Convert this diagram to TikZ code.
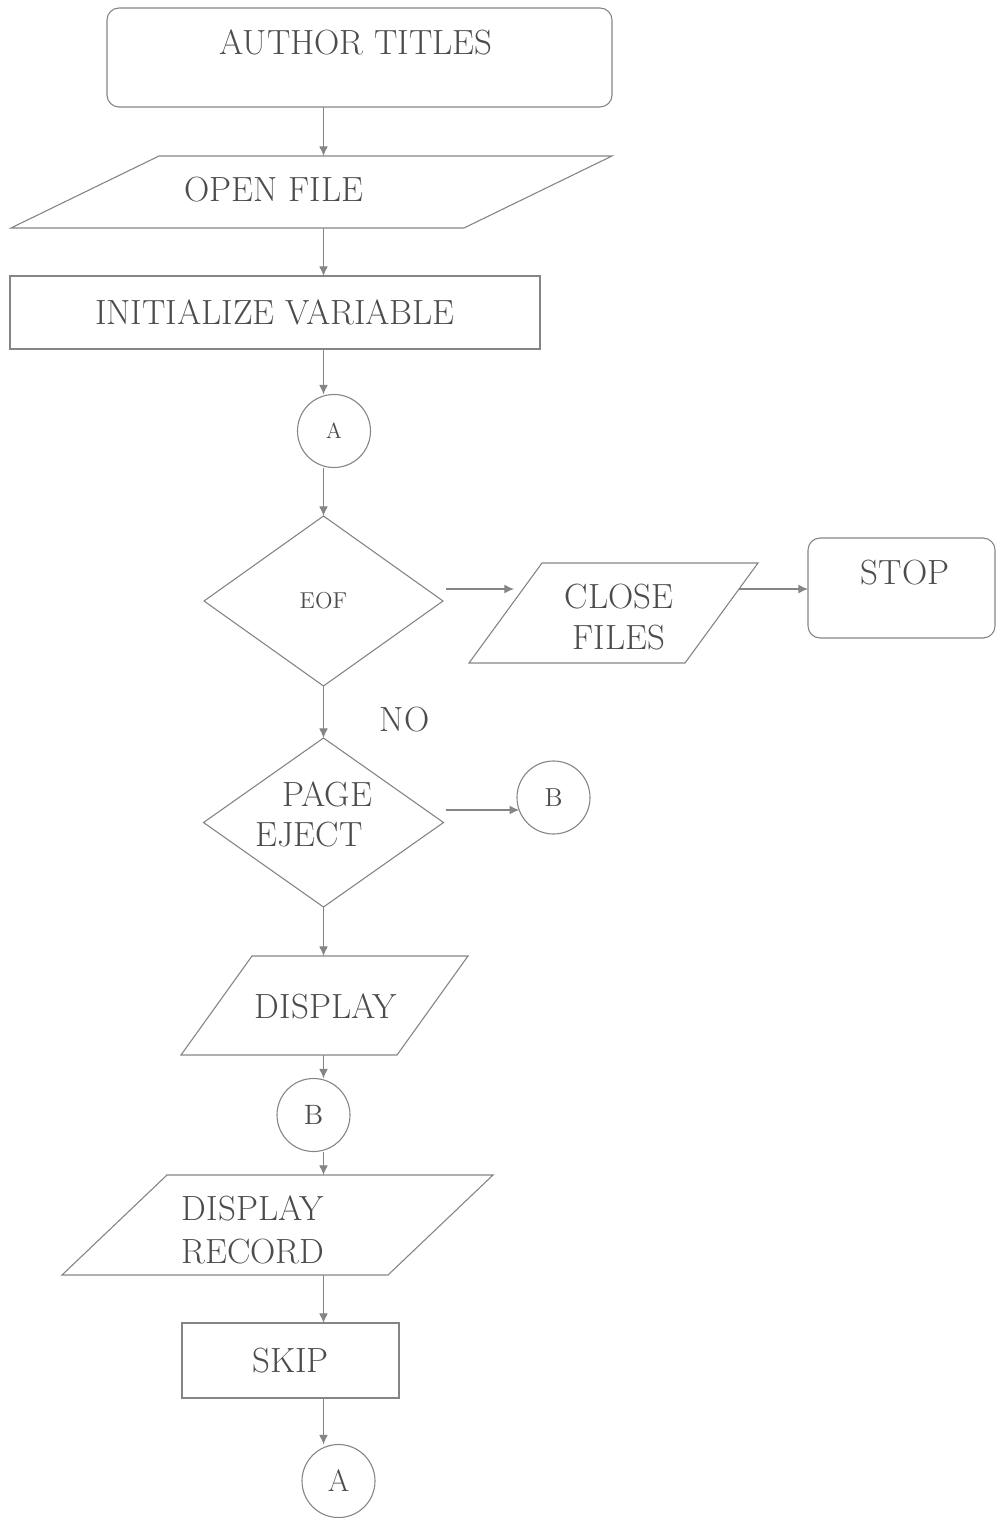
\documentclass[tikz,border=0pt]{standalone}
\usetikzlibrary{shapes.geometric,arrows.meta,calc}
\newcommand\paraoutline[2]{\draw[line] (#1.south west) -- ([shift={(#2,0)}]#1.north west) -- (#1.north east) -- ([shift={(-#2,0)}]#1.south east) -- cycle;}
\begin{document}
\begin{tikzpicture}[x=0.5pt,y=-0.5pt,
  line/.style={draw=black!48, line width=0.55pt},
  arr/.style={line, -{Latex[length=4.8pt,width=4.4pt]}},
  mainfont/.style={font=\fontsize{17.5}{20.5}\selectfont},
  txt/.style={mainfont, text=black!70, inner sep=0pt, align=center},
  box/.style={line, mainfont, text=black!70, rectangle, inner sep=0pt, outer sep=0pt},
  rbox/.style={box, rounded corners=6pt},
  pbox/.style={rectangle, draw=none, inner sep=0pt, outer sep=0pt},
  dia/.style={line, diamond, inner sep=0pt, outer sep=0pt, text=black!70, align=center},
  conn/.style={line, circle, inner sep=0pt, outer sep=0pt, minimum size=36.5pt, text=black!70}
]
\useasboundingbox (0,0) rectangle (996,1518);

% nodes
\node[rbox, minimum width=252.5pt, minimum height=49.5pt] (author) at (359.5,57.5) {};
\node[txt] (authort) at (356,42) {AUTHOR TITLES};

\node[pbox, minimum width=300.5pt, minimum height=36pt] (open) at (311.5,192) {};
\paraoutline{open}{148}
\node[txt] (opent) at (274,190) {OPEN FILE};

\node[box, minimum width=265pt, minimum height=36.5pt] (init) at (275,312.5) {INITIALIZE VARIABLE};

\node[conn, font=\fontsize{11}{13}\selectfont] (a1) at (334,431) {A};

\node[dia, minimum width=119.5pt, minimum height=85pt, font=\fontsize{11.5}{13}\selectfont] (eof) at (323.5,601) {EOF};

\node[pbox, minimum width=144.5pt, minimum height=50pt] (close) at (613.5,613) {};
\paraoutline{close}{73}
\node[txt] (closet) at (619,617.5) {CLOSE\\FILES};

\node[rbox, minimum width=93.5pt, minimum height=50pt] (stop) at (901.5,588) {};
\node[txt] (stopt) at (905,573) {STOP};

\node[txt] (no) at (404.5,720) {NO};

\node[dia, minimum width=120pt, minimum height=84.5pt] (page) at (323.5,822.5) {};
\node[txt] (paget1) at (327,794) {PAGE};
\node[txt] (paget2) at (309,835) {EJECT};

\node[conn, font=\fontsize{13}{15}\selectfont] (b1) at (553.5,797.5) {B};

\node[pbox, minimum width=143.5pt, minimum height=49.5pt] (display) at (324.5,1005.5) {};
\paraoutline{display}{71}
\node[txt] (displayt) at (326,1006) {DISPLAY};

\node[conn, font=\fontsize{14}{16}\selectfont] (b2) at (313.5,1115) {B};

\node[pbox, minimum width=215.5pt, minimum height=50pt] (record) at (277.5,1225) {};
\paraoutline{record}{105}
\node[txt, font=\fontsize{17.5}{21.5}\selectfont] (recordt) at (253,1229.5) {DISPLAY\\RECORD};

\node[box, minimum width=108.5pt, minimum height=37.5pt] (skip) at (290.5,1360.5) {SKIP};

\node[conn, font=\fontsize{15.5}{17}\selectfont] (a2) at (338.5,1481) {A};

% connectors
\draw[arr] (author.south -| eof.north) -- (open.north -| eof.north);
\draw[arr] (open.south -| eof.north) -- (init.north -| eof.north);
\draw[arr] (init.south -| eof.north) -- (a1.north -| eof.north);
\draw[arr] (a1.south -| eof.north) -- (eof.north);
\draw[arr] (eof.south) -- (page.north);
\draw[arr] (page.south) -- (page.south |- display.north);
\draw[arr] (display.south -| page.south) -- (b2.north -| page.south);
\draw[arr] (b2.south -| page.south) -- (record.north -| page.south);
\draw[arr] (record.south -| page.south) -- (skip.north -| page.south);
\draw[arr] (skip.south -| page.south) -- (a2.north -| page.south);

\coordinate (closeL) at ($(close.south west)+(45,-74)$);
\coordinate (closeR) at ($(close.south east)+(-19,-74)$);
\draw[arr, shorten <=1.5pt] (eof.east |- closeL) -- (closeL);
\draw[arr] (closeR) -- (closeR -| stop.west);
\draw[arr, shorten <=1pt] (page.east |- b1.200) -- (b1.200);
\end{tikzpicture}
\end{document}
